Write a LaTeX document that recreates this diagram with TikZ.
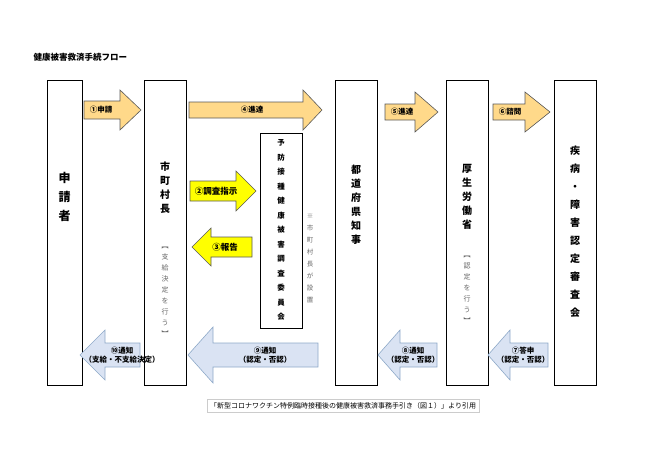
\documentclass[tikz,border=0pt]{standalone}
\usepackage{fontspec}
\setmainfont{Noto Sans CJK JP}
\definecolor{orangefill}{HTML}{FFD98A}
\definecolor{bluefill}{HTML}{DAE3F3}
\definecolor{blueline}{HTML}{8EA9C8}
\definecolor{yellowfill}{HTML}{FFFF00}
% right arrow: left, neck, tip, centre y, body half, head half
\newcommand\rarr[7][]{\fill[#1] (#2,#5-#6) -- (#3,#5-#6) -- (#3,#5-#7) -- (#4,#5) -- (#3,#5+#7) -- (#3,#5+#6) -- (#2,#5+#6) -- cycle;}
\tikzset{
  box/.style={draw=black, thick},
  rarrow/.style={draw=gray!70!black, fill=orangefill, line width=0.6pt},
  yarrow/.style={draw=gray!70!black, fill=yellowfill, line width=0.6pt},
  larrow/.style={draw=blueline, fill=bluefill, line width=0.6pt},
  vtext/.style={font=\fontsize{10}{14}\selectfont\bfseries, align=center, inner sep=0pt},
  gtext/.style={font=\fontsize{7}{11}\selectfont, text=gray!80!black, align=center, inner sep=0pt},
  alabel/.style={font=\fontsize{7.5}{9}\selectfont\bfseries, align=center, inner sep=0pt}
}
\begin{document}
\begin{tikzpicture}[x=1pt,y=-1pt]
	\useasboundingbox (0,0) rectangle (650,460);
	\node[anchor=west, font=\fontsize{8.5}{10}\selectfont\bfseries] (title) at (30,57) {健康被害救済手続フロー};
	% columns
	\draw[box] (47,80) rectangle (82,385);
	\draw[box] (144,80) rectangle (186,385);
	\draw[box] (260,133) rectangle (302,328);
	\draw[box] (335,80) rectangle (377,385);
	\draw[box] (446,80) rectangle (488,385);
	\draw[box] (554,80) rectangle (596,385);
	\node[vtext, font=\fontsize{12}{19}\selectfont\bfseries] (applicant) at (64.5,197) {申\\請\\者};
	\node[vtext] (city) at (165,188) {市\\町\\村\\長};
	\node[gtext] (citynote) at (165,292) {︻\\支\\給\\決\\定\\を\\行\\う\\︼};
	\node[vtext, font=\fontsize{7.5}{14.5}\selectfont\bfseries] (committee) at (281,230) {予\\防\\接\\種\\健\\康\\被\\害\\調\\査\\委\\員\\会};
	\node[gtext, font=\fontsize{6.5}{12}\selectfont] (setup) at (310,258) {※\\市\\町\\村\\長\\が\\設\\置};
	\node[vtext] (pref) at (356,205) {都\\道\\府\\県\\知\\事};
	\node[vtext] (mhlw) at (467,197) {厚\\生\\労\\働\\省};
	\node[gtext] (mhlwnote) at (467,290) {︻\\認\\定\\を\\行\\う\\︼};
	\node[vtext, font=\fontsize{10}{18}\selectfont\bfseries] (council) at (575,232) {疾\\病\\・\\障\\害\\認\\定\\審\\査\\会};
	% right arrows
	\rarr[rarrow]{84}{120}{141}{110}{9}{20}
	\rarr[rarrow]{189}{303}{322}{110}{8}{20}
	\rarr[rarrow]{385}{415}{438}{112}{8}{20}
	\rarr[rarrow]{493}{525}{550}{112}{8}{20}
	\rarr[yarrow]{190}{236}{256}{191}{10}{20}
	\rarr[yarrow]{252}{211}{192}{247}{10}{19}
	\node[alabel] (a1) at (101,110) {①申請};
	\node[alabel] (a4) at (252,110) {④進達};
	\node[alabel] (a5) at (402,112) {⑤進達};
	\node[alabel] (a6) at (510,112) {⑥諮問};
	\node[alabel, font=\fontsize{8.5}{10}\selectfont\bfseries] (a2) at (216,191) {②調査指示};
	\node[alabel, font=\fontsize{8.5}{10}\selectfont\bfseries] (a3) at (225,247) {③報告};
	% left arrows
	\rarr[larrow]{140}{105}{80}{355}{12}{25}
	\rarr[larrow]{318}{213}{188}{355}{12}{28}
	\rarr[larrow]{437}{400}{378}{355}{12}{25}
	\rarr[larrow]{548}{510}{488}{355}{12}{25}
	\node[alabel] (a10) at (122,355) {⑩通知\\（支給・不支給決定）};
	\node[alabel] (a9) at (265,355) {⑨通知\\（認定・否認）};
	\node[alabel] (a8) at (413,355) {⑧通知\\（認定・否認）};
	\node[alabel] (a7) at (523,355) {⑦答申\\（認定・否認）};
	% source
	\node[draw=gray!40, anchor=west, minimum height=12pt, inner sep=3pt, font=\fontsize{7}{8}\selectfont] (source) at (207,406) {「新型コロナワクチン特例臨時接種後の健康被害救済事務手引き（図１）」より引用};
\end{tikzpicture}
\end{document}
